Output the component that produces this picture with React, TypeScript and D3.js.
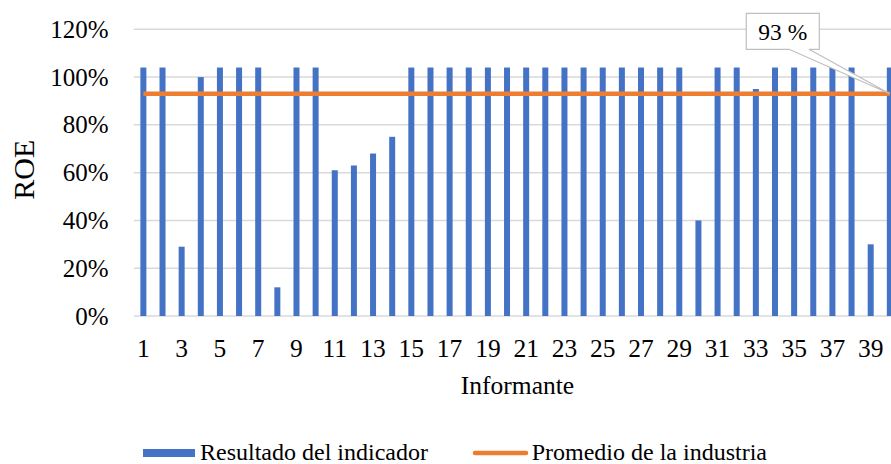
import React from "react";
import * as d3 from "d3";

// ROE per informant (fraction of 1)
const informants: string[] = Array.from({ length: 40 }, (_, i) => String(i + 1));
const roeValues: number[] = [
  1.04, 1.04, 0.29, 1.0, 1.04, 1.04, 1.04, 0.12, 1.04, 1.04,
  0.61, 0.63, 0.68, 0.75, 1.04, 1.04, 1.04, 1.04, 1.04, 1.04,
  1.04, 1.04, 1.04, 1.04, 1.04, 1.04, 1.04, 1.04, 1.04, 0.4,
  1.04, 1.04, 0.95, 1.04, 1.04, 1.04, 1.04, 1.04, 0.3, 1.04,
];
const industryAverage = 0.93;
const yTicks: number[] = [0, 0.2, 0.4, 0.6, 0.8, 1.0, 1.2];
const xTickLabels: string[] = informants.filter((_, i) => i % 2 === 0);
const seriesNames: string[] = ["Resultado del indicador", "Promedio de la industria"];
const averageLabel = "93 %";

const W = 891;
const H = 464;
const FONT = "'Liberation Serif', 'DejaVu Serif', serif";
const BLUE = "#4472c4";
const ORANGE = "#ed7d31";
const GRID = "#d9d9d9";

const plotLeft = 133.8;
const plotRight = 899.4;
const plotTop = 29.3;
const plotBottom = 316;

const txt = (size: number): React.CSSProperties => ({ fontFamily: FONT, fontSize: size });

export default function App() {
  const step = (plotRight - plotLeft) / informants.length;
  const pad = 1 - 6 / step;
  const x = d3
    .scaleBand<string>()
    .domain(informants)
    .range([plotLeft, plotRight])
    .paddingInner(pad)
    .paddingOuter(pad / 2);
  const y = d3.scaleLinear().domain([0, 1.2]).range([plotBottom, plotTop]);
  const cx = (k: string) => (x(k) as number) + x.bandwidth() / 2;

  const avgLine = d3.line<string>()
    .x((k) => cx(k))
    .y(() => y(industryAverage));
  const lastX = cx(informants[informants.length - 1]);
  const avgY = y(industryAverage);

  // callout box with wedge pointing to the end of the average line
  const bx0 = 746.3, bx1 = 819.3, by0 = 13.3, by1 = 49.3;
  const calloutPath = `M${bx0},${by0}L${bx1},${by0}L${bx1},${by1}L809,${by1}L${lastX},${avgY}L789,${by1}L${bx0},${by1}Z`;

  return (
    <div style={{ position: "absolute", left: 0, top: 0 }}>
      <svg width={W} height={H} style={{ display: "block", background: "#fff", overflow: "hidden" }}>
        <rect x={0} y={0} width={W} height={H} fill="#fff" />
        {/* gridlines */}
        {yTicks.map((t) => (
          <line key={t} x1={plotLeft} x2={plotRight} y1={y(t)} y2={y(t)} stroke={GRID} strokeWidth={1.5} />
        ))}
        {/* y tick labels */}
        {yTicks.map((t) => (
          <text key={"yl" + t} x={108.5} y={y(t) + 8.6} textAnchor="end" style={txt(25)} fill="#000">
            {d3.format(".0%")(t)}
          </text>
        ))}
        {/* bars */}
        {informants.map((k, i) => (
          <rect key={k} x={x(k)} y={y(roeValues[i])} width={x.bandwidth()} height={y(0) - y(roeValues[i])} fill={BLUE} />
        ))}
        {/* industry average */}
        <path d={avgLine(informants) || ""} stroke={ORANGE} strokeWidth={4.5} fill="none" />
        {/* x tick labels */}
        {xTickLabels.map((k) => (
          <text key={"xl" + k} x={cx(k)} y={356.5} textAnchor="middle" style={txt(25.5)} fill="#000">
            {k}
          </text>
        ))}
        {/* axis titles */}
        <text x={517.5} y={394.3} textAnchor="middle" style={txt(25.5)} fill="#000">Informante</text>
        <text transform={`translate(34,${(plotTop + plotBottom) / 2 - 3}) rotate(-90)`} textAnchor="middle" style={txt(30)} fill="#000">ROE</text>
        {/* data callout */}
        <path d={calloutPath} fill="#fff" stroke="#bfbfbf" strokeWidth={1.2} />
        <text x={(bx0 + bx1) / 2} y={40} textAnchor="middle" style={txt(23.5)} fill="#000">{averageLabel}</text>
        {/* legend */}
        <rect x={143} y={449} width={52} height={8} fill={BLUE} />
        <text x={200} y={459.5} style={txt(24)} fill="#000">{seriesNames[0]}</text>
        <line x1={475} x2={526} y1={453} y2={453} stroke={ORANGE} strokeWidth={4.5} strokeLinecap="round" />
        <text x={531.7} y={459.5} style={txt(24)} fill="#000">{seriesNames[1]}</text>
      </svg>
    </div>
  );
}
